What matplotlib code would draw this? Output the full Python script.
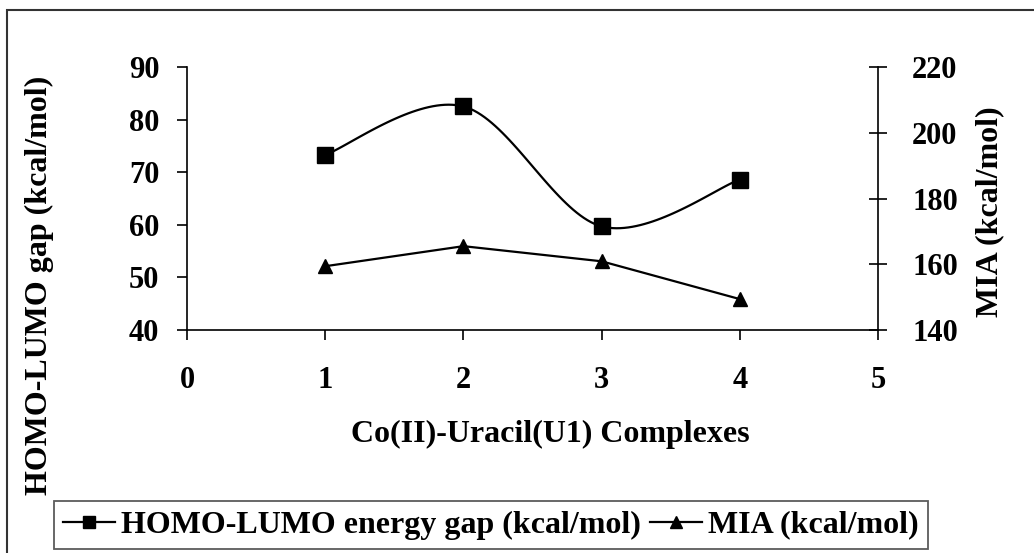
import numpy as np
import matplotlib
matplotlib.use("Agg")
import matplotlib.pyplot as plt
from matplotlib.patches import Rectangle

plt.rcParams['font.family'] = ['Liberation Serif', 'DejaVu Serif']
plt.rcParams['font.weight'] = 'bold'

# data
complexes = [1, 2, 3, 4]
gap = [73.3, 82.5, 59.7, 68.6]      # HOMO-LUMO energy gap, left axis
mia = [159.4, 165.5, 160.9, 149.4]  # MIA, right axis


def smooth(xs, ys, n=40):
    # Excel-style smoothed line (Catmull-Rom through the points)
    xs = np.asarray(xs, float)
    ys = np.asarray(ys, float)
    px = np.concatenate([[xs[0]], xs, [xs[-1]]])
    py = np.concatenate([[ys[0]], ys, [ys[-1]]])
    outx, outy = [], []
    t = np.linspace(0, 1, n)
    for i in range(1, len(px) - 2):
        for p, out in ((px, outx), (py, outy)):
            p0, p1, p2, p3 = p[i - 1], p[i], p[i + 1], p[i + 2]
            m1 = (p2 - p0) / 2
            m2 = (p3 - p1) / 2
            h00 = 2 * t**3 - 3 * t**2 + 1
            h10 = t**3 - 2 * t**2 + t
            h01 = -2 * t**3 + 3 * t**2
            h11 = t**3 - t**2
            out.extend(h00 * p1 + h10 * m1 + h01 * p2 + h11 * m2)
    return np.array(outx), np.array(outy)


fig = plt.figure(figsize=(10.34, 5.53), dpi=100)
ax = fig.add_axes([187 / 1034, 1 - 330 / 553, (878 - 187) / 1034, (330 - 67) / 553])
ax2 = ax.twinx()

sx, sy = smooth(complexes, gap)
ax.plot(sx, sy, color='black', lw=1.6, zorder=2)
ax.plot(complexes, gap, ls='none', marker='s', ms=11, color='black', zorder=3)
ax2.plot(complexes, mia, color='black', lw=1.6, marker='^', ms=10)

ax.set_xlim(0, 5)
ax.set_ylim(40, 90)
ax2.set_ylim(140, 220)
ax.set_xticks(range(0, 6))
ax.set_yticks(range(40, 91, 10))
ax2.set_yticks(range(140, 221, 20))

for a in (ax, ax2):
    a.spines['top'].set_visible(False)
    for s in a.spines.values():
        s.set_linewidth(1.2)
ax.spines['right'].set_visible(False)
ax2.spines['left'].set_visible(False)
ax2.spines['bottom'].set_visible(False)

ax.tick_params(axis='x', direction='out', length=7, width=1.2, pad=19, labelsize=22)
ax.tick_params(axis='y', direction='out', length=7, width=1.2, pad=13, labelsize=22)
ax2.tick_params(axis='y', direction='inout', length=13, width=1.2, pad=18, labelsize=22)

fig.text(39 / 1034, 1 - 285 / 553, 'HOMO-LUMO gap (kcal/mol)', rotation=90,
         ha='center', va='center', fontsize=23, fontweight='bold')
fig.text(990 / 1034, 1 - 212 / 553, 'MIA (kcal/mol)', rotation=90,
         ha='center', va='center', fontsize=23, fontweight='bold')
fig.text(550 / 1034, 1 - 434 / 553, 'Co(II)-Uracil(U1) Complexes',
         ha='center', va='center', fontsize=23, fontweight='bold')

h1 = plt.Line2D([], [], color='black', lw=1.6, marker='s', ms=9)
h2 = plt.Line2D([], [], color='black', lw=1.6, marker='^', ms=9)
leg = fig.legend([h1, h2], ['HOMO-LUMO energy gap (kcal/mol)', 'MIA (kcal/mol)'],
                 loc='center', bbox_to_anchor=(491 / 1034, 1 - 525 / 553), ncol=2,
                 fontsize=23, frameon=True, fancybox=False, borderpad=0.3,
                 handlelength=1.6, handletextpad=0.2, columnspacing=0.3,
                 borderaxespad=0)
leg.get_frame().set_edgecolor('#333333')
leg.get_frame().set_linewidth(1.3)

# outer chart frame
fig.patches.append(Rectangle((7 / 1034, -0.05), 1.1, 1.05 - 9.5 / 553, transform=fig.transFigure,
                             fill=False, edgecolor='#333333', lw=1.5))

fig.savefig('out.png', dpi=100)
